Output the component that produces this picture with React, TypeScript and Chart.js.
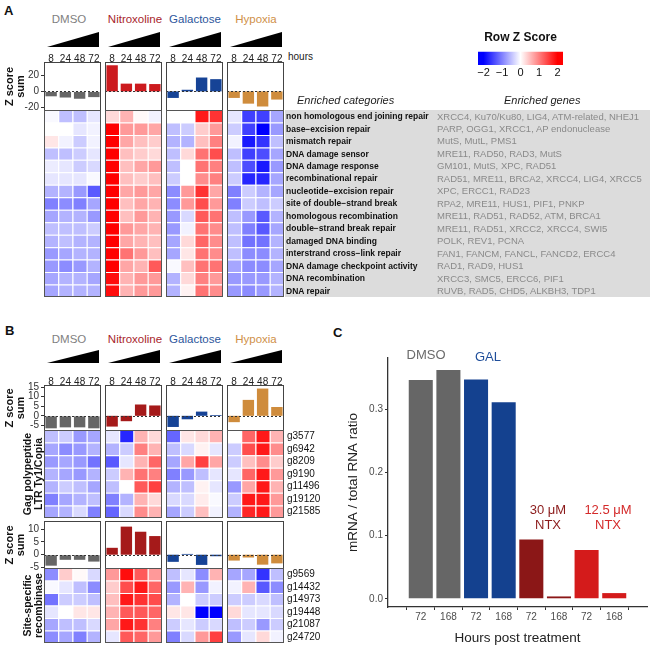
import React, { useEffect, useRef } from "react";
import { Chart, registerables } from "chart.js";
Chart.register(...registerables);

const FONT = "'Liberation Sans', Arial, Helvetica, sans-serif";

// ---------- shared categories ----------
const groupNames = ["DMSO", "Nitroxoline", "Galactose", "Hypoxia"];
const groupTextColors = ["#7f7f7f", "#a8262b", "#2c569c", "#cf9048"];
const hourLabels = ["8", "24", "48", "72"];
const barColorsA = ["#666666", "#cc1a1e", "#164396", "#cf8c3c"];
const barColorsB = ["#666666", "#a51a1a", "#164396", "#cf8c3c"];

// ---------- panel A ----------
const zSumA = [
  [-6, -7.5, -9, -7],
  [32, 9.5, 9.5, 9],
  [-8, 2, 17, 15],
  [-8, -15, -18.5, -10],
];
const rangeA = [-24, 36];
const ticksA = [-20, 0, 20];

const categoriesA = [
  "non homologous end joining repair",
  "base\u2212excision repair",
  "mismatch repair",
  "DNA damage sensor",
  "DNA damage response",
  "recombinational repair",
  "nucleotide\u2212excision repair",
  "site of double\u2212strand break",
  "homologous recombination",
  "double\u2212strand break repair",
  "damaged DNA binding",
  "interstrand cross\u2212link repair",
  "DNA damage checkpoint activity",
  "DNA recombination",
  "DNA repair",
];
const genesA = [
  "XRCC4, Ku70/Ku80, LIG4, ATM-related, NHEJ1",
  "PARP, OGG1, XRCC1, AP endonuclease",
  "MutS, MutL, PMS1",
  "MRE11, RAD50, RAD3, MutS",
  "GM101, MutS, XPC, RAD51",
  "RAD51, MRE11, BRCA2, XRCC4, LIG4, XRCC5",
  "XPC, ERCC1, RAD23",
  "RPA2, MRE11, HUS1, PIF1, PNKP",
  "MRE11, RAD51, RAD52, ATM, BRCA1",
  "MRE11, RAD51, XRCC2, XRCC4, SWI5",
  "POLK, REV1, PCNA",
  "FAN1, FANCM, FANCL, FANCD2, ERCC4",
  "RAD1, RAD9, HUS1",
  "XRCC3, SMC5, ERCC6, PIF1",
  "RUVB, RAD5, CHD5, ALKBH3, TDP1",
];

const heatA_dmso = [
  [-0.05, -0.5, -0.5, -0.2],
  [0, 0, -0.2, -0.1],
  [0.2, -0.1, -0.4, -0.1],
  [-0.5, -0.5, -0.4, -0.2],
  [-0.15, -0.2, -0.4, -0.3],
  [-0.2, -0.2, -0.2, -0.05],
  [-0.6, -0.6, -0.8, -1.3],
  [-1.0, -0.9, -1.0, -0.7],
  [-0.7, -0.6, -0.6, -0.8],
  [-0.5, -0.5, -0.5, -0.4],
  [-0.6, -0.5, -0.6, -0.6],
  [-0.8, -0.7, -0.6, -0.6],
  [-0.8, -0.9, -0.8, -0.6],
  [-0.7, -0.6, -0.6, -0.7],
  [-0.7, -0.6, -0.6, -0.6],
];
const heatA_nitro = [
  [0.3, 0.6, 0.05, -0.1],
  [2.0, 0.8, 0.8, 0.7],
  [2.0, 0.7, 0.5, 0.4],
  [2.0, 0.5, 0.4, 0.3],
  [2.0, 0.5, 0.7, 0.8],
  [2.0, 0.5, 0.4, 0.5],
  [2.0, 0.7, 0.8, 0.7],
  [2.0, 0.5, 0.7, 0.6],
  [2.0, 0.5, 0.8, 0.6],
  [2.0, 0.8, 0.7, 0.6],
  [2.0, 0.7, 0.6, 0.5],
  [2.0, 1.1, 0.8, 0.5],
  [2.0, 0.7, 0.6, 1.3],
  [1.9, 0.6, 0.8, 0.8],
  [1.9, 0.6, 0.8, 0.8],
];
const heatA_gal = [
  [0, 0, 1.8, 1.6],
  [-0.5, -0.4, 0.4, 0.8],
  [-0.6, -0.6, 0.5, 1.0],
  [-0.5, 0.3, 1.1, 1.4],
  [-0.5, 0, 1.1, 1.0],
  [-0.4, 0, 0.9, 1.0],
  [-0.9, 0.8, 1.6, 0.7],
  [-0.9, 0.8, 1.4, 0.8],
  [-0.8, -0.3, 1.3, 1.1],
  [-0.8, -0.1, 1.1, 0.9],
  [-0.7, 0.3, 1.2, 0.9],
  [-0.7, 0.2, 1.1, 0.9],
  [-0.05, 0.5, 1.1, 1.1],
  [-0.6, 0.3, 1.0, 0.8],
  [-0.6, 0.1, 1.1, 0.9],
];
const heatA_hyp = [
  [-0.2, -1.5, -1.5, -0.7],
  [-0.4, -1.5, -2.0, -0.8],
  [-0.1, -1.8, -1.6, -0.5],
  [-0.5, -1.5, -1.4, -0.7],
  [-0.5, -1.4, -1.8, -0.8],
  [-0.4, -1.7, -1.7, -0.7],
  [-1.0, -0.4, -0.6, -0.7],
  [-1.0, -0.4, -0.5, -0.4],
  [-0.5, -0.8, -1.3, -0.6],
  [-0.5, -1.0, -1.3, -0.7],
  [-0.5, -1.1, -1.1, -0.6],
  [-0.5, -0.9, -0.9, -0.6],
  [-0.7, -0.9, -0.9, -0.7],
  [-0.8, -0.8, -0.8, -0.6],
  [-0.8, -0.9, -0.8, -0.6],
];

// ---------- panel B ----------
const zSumB1 = [
  [-6.5, -6, -6, -6.5],
  [-5.6, -2.8, 5.9, 5.4],
  [-5.8, -1.8, 2.2, 0.4],
  [-3.3, 8.3, 14.2, 4.6],
];
const rangeB1 = [-7.9, 16.05];
const ticksB1 = [-5, 0, 5, 10, 15];
const zSumB2 = [
  [-4.3, -2, -2, -2.7],
  [2.7, 11, 9, 7.3],
  [-2.8, 0.3, -4, -0.6],
  [-2.3, -1.1, -3.9, -3.4],
];
const rangeB2 = [-5.6, 13.2];
const ticksB2 = [-5, 0, 5, 10];

const genesB1 = ["g3577", "g6942", "g8209", "g9190", "g11496", "g19120", "g21585"];
const genesB2 = ["g9569", "g14432", "g14973", "g19448", "g21087", "g24720"];

const heatB1_dmso = [
  [-0.5, -0.4, -0.8, -0.7],
  [-0.7, -0.9, -0.8, -0.6],
  [-0.8, -0.7, -0.8, -1.1],
  [-0.6, -0.7, -0.8, -0.6],
  [-0.6, -0.4, -0.5, -0.7],
  [-1.0, -0.7, -0.6, -0.5],
  [-0.7, -0.6, -0.3, -1.0],
];
const heatB1_nitro = [
  [-0.2, -1.7, 0.6, 0.3],
  [-0.6, -0.4, 1.0, 0.6],
  [-1.3, -0.2, 0.6, 1.2],
  [-0.4, 0.6, 1.1, 1.0],
  [-0.5, 0.0, 1.3, 1.5],
  [-1.0, -0.6, 0.6, 0.3],
  [-1.2, -0.3, 0.9, 0.6],
];
const heatB1_gal = [
  [-1.2, 0.2, 0.3, 0.6],
  [-0.5, -0.3, 0.1, -0.2],
  [-0.7, 0.7, 1.5, 0.7],
  [-1.0, -0.8, -0.5, -0.2],
  [-0.6, -0.5, 0.1, -0.2],
  [-0.3, -0.3, 0.15, -0.05],
  [-0.7, -0.4, 0.5, -0.1],
];
const heatB1_hyp = [
  [0.0, 1.2, 1.8, 0.6],
  [-0.4, 1.4, 1.8, 0.9],
  [-0.4, 0.5, 0.9, 0.4],
  [-0.2, 1.2, 1.8, 0.8],
  [-0.8, 0.7, 1.8, 0.6],
  [-0.4, 1.8, 1.8, 0.8],
  [-0.6, 1.7, 1.8, 0.8],
];
const heatB2_dmso = [
  [-0.9, 0.4, 0.05, -0.3],
  [-0.05, -0.2, -0.5, -0.9],
  [-1.1, -0.4, -0.4, -0.5],
  [-0.2, 0.0, 0.2, 0.2],
  [-0.7, -0.5, -0.5, -0.3],
  [-0.9, -0.7, -1.0, -0.6],
];
const heatB2_nitro = [
  [0.8, 1.9, 1.3, 0.8],
  [0.4, 1.4, 1.8, 1.2],
  [0.5, 1.8, 1.6, 1.4],
  [0.6, 1.3, 1.3, 1.2],
  [0.7, 1.8, 1.6, 1.0],
  [-0.2, 1.3, 1.2, 0.8],
];
const heatB2_gal = [
  [-0.5, -0.2, -0.9, 0.6],
  [-0.8, 0.6, -0.8, -0.1],
  [-0.6, 0.0, -0.4, -0.4],
  [0.2, 0.2, -2.0, -2.0],
  [-0.4, -0.2, -0.4, -0.3],
  [-1.0, -0.3, 0.8, 1.5],
];
const heatB2_hyp = [
  [-0.7, -0.7, -1.6, -0.5],
  [-0.1, 0.6, -1.3, -0.9],
  [-0.4, -0.4, -0.3, -0.5],
  [0.3, -0.2, -0.2, -0.3],
  [-0.5, -0.4, -0.8, -0.4],
  [-0.8, -0.2, 0.3, -0.1],
];

// ---------- legend ----------
const legendTicks = [-2, -1, 0, 1, 2];
const legendRange = [-2.3, 2.3];

// ---------- panel C ----------
const cHourLabels = ["72", "168", "72", "168", "72", "168", "72", "168"];
const cValues = [0.346, 0.362, 0.347, 0.311, 0.094, 0.0037, 0.077, 0.009];
const cColors = ["#666666", "#666666", "#14418f", "#14418f", "#8b1717", "#8b1717", "#d41b1b", "#d41b1b"];
const cYTicks = [0, 0.1, 0.2, 0.3];
const cYRange = [-0.013, 0.381];

// ---------- layout ----------
const GX = [44, 105, 166, 227];
const GW = 57;
const LEFT_W = 44;
const HOURS_H = 14;
const EXTRA_B = 8;

function zColor(v: number) {
  const t = Math.max(-1, Math.min(1, v / 2));
  if (t < 0) {
    const c = Math.round(255 * (1 + t));
    return `rgb(${c},${c},255)`;
  }
  const c = Math.round(255 * (1 - t));
  return `rgb(255,${c},${c})`;
}

const frame = (color: string) => ({
  id: "frame",
  afterDraw(chart: any) {
    const { ctx, chartArea: a } = chart;
    ctx.save();
    ctx.strokeStyle = color;
    ctx.lineWidth = 1;
    const l = Math.round(a.left), t = Math.round(a.top);
    const w = Math.round(a.right) - l, h = Math.round(a.bottom) - t;
    ctx.strokeRect(l + 0.5, t + 0.5, w - 1, h - 1);
    ctx.restore();
  },
});

const zeroLine = {
  id: "zeroLine",
  afterDatasetsDraw(chart: any) {
    const { ctx, chartArea: a } = chart;
    const y = Math.round(chart.scales.y.getPixelForValue(0)) + 0.5;
    ctx.save();
    ctx.setLineDash([2, 2]);
    ctx.strokeStyle = "#333";
    ctx.lineWidth = 1;
    ctx.beginPath();
    ctx.moveTo(a.left, y);
    ctx.lineTo(a.right, y);
    ctx.stroke();
    ctx.restore();
  },
};

const baseOpts = {
  animation: false,
  responsive: false,
  maintainAspectRatio: false,
  events: [],
  layout: { padding: 0 },
};

function barBox(values: number[], color: string, range: number[], ticks: number[], showHours: boolean, yAxis: boolean) {
  return {
    type: "bar",
    data: {
      labels: hourLabels,
      datasets: [{ data: values, backgroundColor: color, barPercentage: 0.8, categoryPercentage: 1, inflateAmount: 0 }],
    },
    options: {
      ...baseOpts,
      layout: { padding: { top: 0, left: 0, right: 0, bottom: yAxis ? EXTRA_B : 0 } },
      plugins: { legend: { display: false }, tooltip: { enabled: false } },
      scales: {
        x: {
          position: "top",
          display: showHours,
          grid: { display: false, drawTicks: false },
          border: { display: false },
          ticks: { font: { family: FONT, size: 10 }, color: "#222", padding: -3, maxRotation: 0, autoSkip: false },
          afterFit: (s: any) => { s.height = showHours ? HOURS_H : 0; s.paddingLeft = 0; s.paddingRight = 0; },
        },
        y: {
          display: yAxis,
          min: range[0],
          max: range[1],
          afterBuildTicks: (s: any) => { s.ticks = ticks.map((v) => ({ value: v })); },
          grid: { display: true, drawOnChartArea: false, drawTicks: true, tickLength: 3, color: "#333" },
          border: { display: false },
          ticks: { font: { family: FONT, size: 10 }, color: "#333", padding: 2, autoSkip: false },
          title: {
            display: true,
            text: ["Z score", "sum"],
            font: { family: FONT, size: 11, weight: "bold", lineHeight: 1 },
            color: "#111",
            padding: { top: 4, bottom: 0 },
          },
          afterFit: (s: any) => { s.width = yAxis ? LEFT_W : 0; s.paddingTop = 0; s.paddingBottom = 0; },
        },
      },
    },
    plugins: [zeroLine, frame("#444")],
  };
}

function heatmap(rows: number[][], opt: { title?: string[]; labels?: string[] }) {
  const showY = !!(opt.title || opt.labels);
  const yW = opt.labels ? 42 : opt.title ? LEFT_W : 0;
  return {
    type: "bar",
    data: {
      labels: hourLabels,
      datasets: rows.map((r) => ({
        data: r.map(() => 1),
        backgroundColor: r.map(zColor),
        borderColor: "#ffffff",
        borderWidth: { top: 1, left: 1, right: 0, bottom: 0 },
        borderSkipped: false,
        barPercentage: 1,
        categoryPercentage: 1,
        inflateAmount: 0,
      })),
    },
    options: {
      ...baseOpts,
      plugins: { legend: { display: false }, tooltip: { enabled: false } },
      scales: {
        x: { display: false, stacked: true },
        y: {
          display: showY,
          stacked: true,
          reverse: true,
          min: 0,
          max: rows.length,
          position: opt.labels ? "right" : "left",
          afterBuildTicks: (s: any) => { s.ticks = rows.map((_, i) => ({ value: i + 0.5 })); },
          grid: { display: false, drawTicks: false },
          border: { display: false },
          ticks: {
            display: !!opt.labels,
            autoSkip: false,
            font: { family: FONT, size: 10 },
            color: "#111",
            padding: 3,
            callback: (_v: any, i: number) => (opt.labels ? opt.labels[i] : ""),
          },
          title: {
            display: !!opt.title,
            text: opt.title || "",
            font: { family: FONT, size: 10.5, weight: "bold", lineHeight: 1 },
            color: "#111",
            padding: { top: 23, bottom: 0 },
          },
          afterFit: (s: any) => { s.width = yW; s.paddingTop = 0; s.paddingBottom = 0; },
        },
      },
    },
    plugins: [frame("#555")],
  };
}

function legendConfig() {
  return {
    type: "bar",
    data: {
      labels: [""],
      datasets: [
        {
          data: [legendRange],
          backgroundColor: (c: any) => {
            const ch = c.chart;
            if (!ch.chartArea) return "#ffffff";
            const xs = ch.scales.x;
            const g = ch.ctx.createLinearGradient(xs.getPixelForValue(-2), 0, xs.getPixelForValue(2), 0);
            g.addColorStop(0, "#0000ff");
            g.addColorStop(0.5, "#ffffff");
            g.addColorStop(1, "#ff0000");
            return g;
          },
          barPercentage: 1,
          categoryPercentage: 1,
          inflateAmount: 0,
        },
      ],
    },
    options: {
      ...baseOpts,
      indexAxis: "y",
      layout: { padding: { left: 8, right: 7, top: 0, bottom: 0 } },
      plugins: {
        legend: { display: false },
        tooltip: { enabled: false },
        title: {
          display: true,
          text: "Row Z Score",
          font: { family: FONT, size: 12, weight: "bold" },
          color: "#111",
          padding: { top: 0, bottom: 7 },
        },
      },
      scales: {
        x: {
          min: legendRange[0],
          max: legendRange[1],
          afterBuildTicks: (s: any) => { s.ticks = legendTicks.map((v) => ({ value: v })); },
          grid: { display: false, drawTicks: false },
          border: { display: false },
          ticks: {
            font: { family: FONT, size: 11 },
            color: "#111",
            padding: 1,
            autoSkip: false,
            callback: (v: number) => (v < 0 ? "\u2212" + Math.abs(v) : String(v)),
          },
          afterFit: (s: any) => { s.height = 15; s.paddingLeft = 0; s.paddingRight = 0; },
        },
        y: { display: false },
      },
    },
  };
}

function panelCConfig() {
  return {
    type: "bar",
    data: {
      datasets: [
        {
          data: cValues.map((v, i) => ({ x: i, y: v })),
          backgroundColor: cColors,
          barPercentage: 0.87,
          categoryPercentage: 1,
          inflateAmount: 0,
        },
      ],
    },
    options: {
      ...baseOpts,
      layout: { padding: { top: 18, right: 3, left: 0, bottom: 0 } },
      plugins: { legend: { display: false }, tooltip: { enabled: false } },
      scales: {
        x: {
          type: "linear",
          min: -0.6,
          max: cValues.length - 0.4,
          afterBuildTicks: (s: any) => { s.ticks = cHourLabels.map((_, i) => ({ value: i })); },
          grid: { display: true, drawOnChartArea: false, drawTicks: true, tickLength: 3, color: "#333" },
          border: { display: true, color: "#333", width: 1.3 },
          ticks: {
            font: { family: FONT, size: 10 },
            color: "#4d4d4d",
            padding: 1,
            maxRotation: 0,
            autoSkip: false,
            callback: (v: number) => cHourLabels[Math.round(v)],
          },
          title: {
            display: true,
            text: "Hours post treatment",
            font: { family: FONT, size: 13.5 },
            color: "#222",
            padding: { top: 0, bottom: 0 },
          },
          afterFit: (s: any) => { s.height = 39; },
        },
        y: {
          min: cYRange[0],
          max: cYRange[1],
          afterBuildTicks: (s: any) => { s.ticks = cYTicks.map((v) => ({ value: v })); },
          grid: { display: true, drawOnChartArea: false, drawTicks: true, tickLength: 3, color: "#333" },
          border: { display: true, color: "#333", width: 1.3 },
          ticks: {
            font: { family: FONT, size: 10 },
            color: "#4d4d4d",
            padding: 2,
            autoSkip: false,
            callback: (v: number) => v.toFixed(1),
          },
          title: {
            display: true,
            text: "mRNA / total RNA ratio",
            font: { family: FONT, size: 13.5 },
            color: "#222",
            padding: { top: 5, bottom: 0 },
          },
          afterFit: (s: any) => { s.width = 48; },
        },
      },
    },
  };
}

function ChartCanvas({ x, y, w, h, make }: { x: number; y: number; w: number; h: number; make: () => any }) {
  const ref = useRef<HTMLCanvasElement>(null);
  useEffect(() => {
    const chart = new Chart(ref.current as HTMLCanvasElement, make());
    return () => chart.destroy();
  }, []);
  return (
    <canvas
      ref={ref}
      width={w}
      height={h}
      style={{ position: "absolute", left: x, top: y, width: w, height: h, display: "block" }}
    />
  );
}

function Txt({ x, y, s, c = "#111", b = false, i = false, a = "left", children }: any) {
  const tx = a === "center" ? "translateX(-50%)" : a === "right" ? "translateX(-100%)" : "none";
  return (
    <div
      style={{
        position: "absolute",
        left: x,
        top: y - s * 0.6,
        fontSize: s,
        lineHeight: `${s * 1.2}px`,
        fontFamily: FONT,
        color: c,
        fontWeight: b ? "bold" : "normal",
        fontStyle: i ? "italic" : "normal",
        whiteSpace: "nowrap",
        transform: tx,
      }}
    >
      {children}
    </div>
  );
}

function Triangle({ x, y, w, h }: { x: number; y: number; w: number; h: number }) {
  return (
    <div
      style={{
        position: "absolute",
        left: x,
        top: y,
        width: w,
        height: h,
        background: "#000",
        clipPath: "polygon(0 100%, 100% 0, 100% 100%)",
      }}
    />
  );
}

const headerCenters = [69, 135, 195, 256];

function GroupHeaders({ ty, triTop, triH }: { ty: number; triTop: number; triH: number }) {
  return (
    <>
      {groupNames.map((g, i) => (
        <Txt key={g} x={headerCenters[i]} y={ty} s={11.5} c={groupTextColors[i]} a="center">
          {g}
        </Txt>
      ))}
      {GX.map((gx, i) => (
        <Triangle key={i} x={gx + 3} y={triTop} w={GW - 5} h={triH} />
      ))}
    </>
  );
}

export default function App() {
  const heatsA = [heatA_dmso, heatA_nitro, heatA_gal, heatA_hyp];
  const heatsB1 = [heatB1_dmso, heatB1_nitro, heatB1_gal, heatB1_hyp];
  const heatsB2 = [heatB2_dmso, heatB2_nitro, heatB2_gal, heatB2_hyp];

  // vertical layout
  const A_BOX = 62, A_BOX_H = 49, A_HEAT = 110, A_HEAT_H = 187;
  const B_BOX1 = 385, B_BOX1_H = 46, B_HEAT1 = 430, B_HEAT1_H = 88;
  const B_BOX2 = 521, B_BOX2_H = 48, B_HEAT2 = 568, B_HEAT2_H = 75;
  const rowHA = A_HEAT_H / categoriesA.length;

  const boxCanvas = (key: string, i: number, top: number, h: number, hours: boolean, make: () => any) => (
    <ChartCanvas
      key={key}
      x={i === 0 ? GX[i] - LEFT_W : GX[i]}
      y={hours ? top - HOURS_H : top}
      w={i === 0 ? GW + LEFT_W : GW}
      h={h + (hours ? HOURS_H : 0) + (i === 0 ? EXTRA_B : 0)}
      make={make}
    />
  );

  return (
    <div style={{ position: "absolute", left: 0, top: 0, width: 650, height: 646, overflow: "hidden", background: "#fff" }}>
      {/* Panel letters */}
      <Txt x={4} y={11} s={13} b>A</Txt>
      <Txt x={5} y={331} s={13} b>B</Txt>
      <Txt x={333} y={333} s={13} b>C</Txt>

      {/* ----- Panel A ----- */}
      <GroupHeaders ty={20} triTop={32} triH={15} />
      <Txt x={288} y={57} s={10} c="#222">hours</Txt>
      {GX.map((_, i) =>
        boxCanvas("ab" + i, i, A_BOX, A_BOX_H, true, () => barBox(zSumA[i], barColorsA[i], rangeA, ticksA, true, i === 0))
      )}
      {GX.map((gx, i) => (
        <ChartCanvas key={"ah" + i} x={gx} y={A_HEAT} w={GW} h={A_HEAT_H} make={() => heatmap(heatsA[i], {})} />
      ))}
      <div style={{ position: "absolute", left: 285, top: A_HEAT, width: 365, height: A_HEAT_H, background: "#dcdcdc" }} />
      <Txt x={297} y={101} s={11} i c="#222">Enriched categories</Txt>
      <Txt x={504} y={101} s={11} i c="#222">Enriched genes</Txt>
      {categoriesA.map((c, i) => (
        <Txt key={"c" + i} x={286} y={A_HEAT + rowHA * (i + 0.5)} s={8.5} b c="#111">{c}</Txt>
      ))}
      {genesA.map((g, i) => (
        <Txt key={"g" + i} x={437} y={A_HEAT + rowHA * (i + 0.5)} s={9.5} c="#8a8a8a">{g}</Txt>
      ))}
      <ChartCanvas x={470} y={30} w={100} h={50} make={legendConfig} />

      {/* ----- Panel B ----- */}
      <GroupHeaders ty={340} triTop={350} triH={13} />
      {GX.map((_, i) =>
        boxCanvas("bb1" + i, i, B_BOX1, B_BOX1_H, true, () => barBox(zSumB1[i], barColorsB[i], rangeB1, ticksB1, true, i === 0))
      )}
      {GX.map((gx, i) => (
        <ChartCanvas
          key={"bh1" + i}
          x={i === 0 ? gx - LEFT_W : gx}
          y={B_HEAT1}
          w={i === 0 ? GW + LEFT_W : i === 3 ? GW + 42 : GW}
          h={B_HEAT1_H}
          make={() =>
            heatmap(heatsB1[i], i === 0 ? { title: ["Gag polypeptide", "LTR Ty1/Copia"] } : i === 3 ? { labels: genesB1 } : {})
          }
        />
      ))}
      {GX.map((_, i) =>
        boxCanvas("bb2" + i, i, B_BOX2, B_BOX2_H, false, () => barBox(zSumB2[i], barColorsB[i], rangeB2, ticksB2, false, i === 0))
      )}
      {GX.map((gx, i) => (
        <ChartCanvas
          key={"bh2" + i}
          x={i === 0 ? gx - LEFT_W : gx}
          y={B_HEAT2}
          w={i === 0 ? GW + LEFT_W : i === 3 ? GW + 42 : GW}
          h={B_HEAT2_H}
          make={() =>
            heatmap(heatsB2[i], i === 0 ? { title: ["Site-specific", "recombinase"] } : i === 3 ? { labels: genesB2 } : {})
          }
        />
      ))}

      {/* ----- Panel C ----- */}
      <ChartCanvas x={340} y={340} w={310} h={306} make={panelCConfig} />
      <Txt x={426} y={355} s={13} c="#6b6b6b" a="center">DMSO</Txt>
      <Txt x={488} y={357} s={13} c="#1f4e9a" a="center">GAL</Txt>
      <Txt x={548} y={510} s={13} c="#8b1a1a" a="center">30 μM</Txt>
      <Txt x={548} y={525} s={13} c="#8b1a1a" a="center">NTX</Txt>
      <Txt x={608} y={510} s={13} c="#d42a2a" a="center">12.5 μM</Txt>
      <Txt x={608} y={525} s={13} c="#d42a2a" a="center">NTX</Txt>
    </div>
  );
}
